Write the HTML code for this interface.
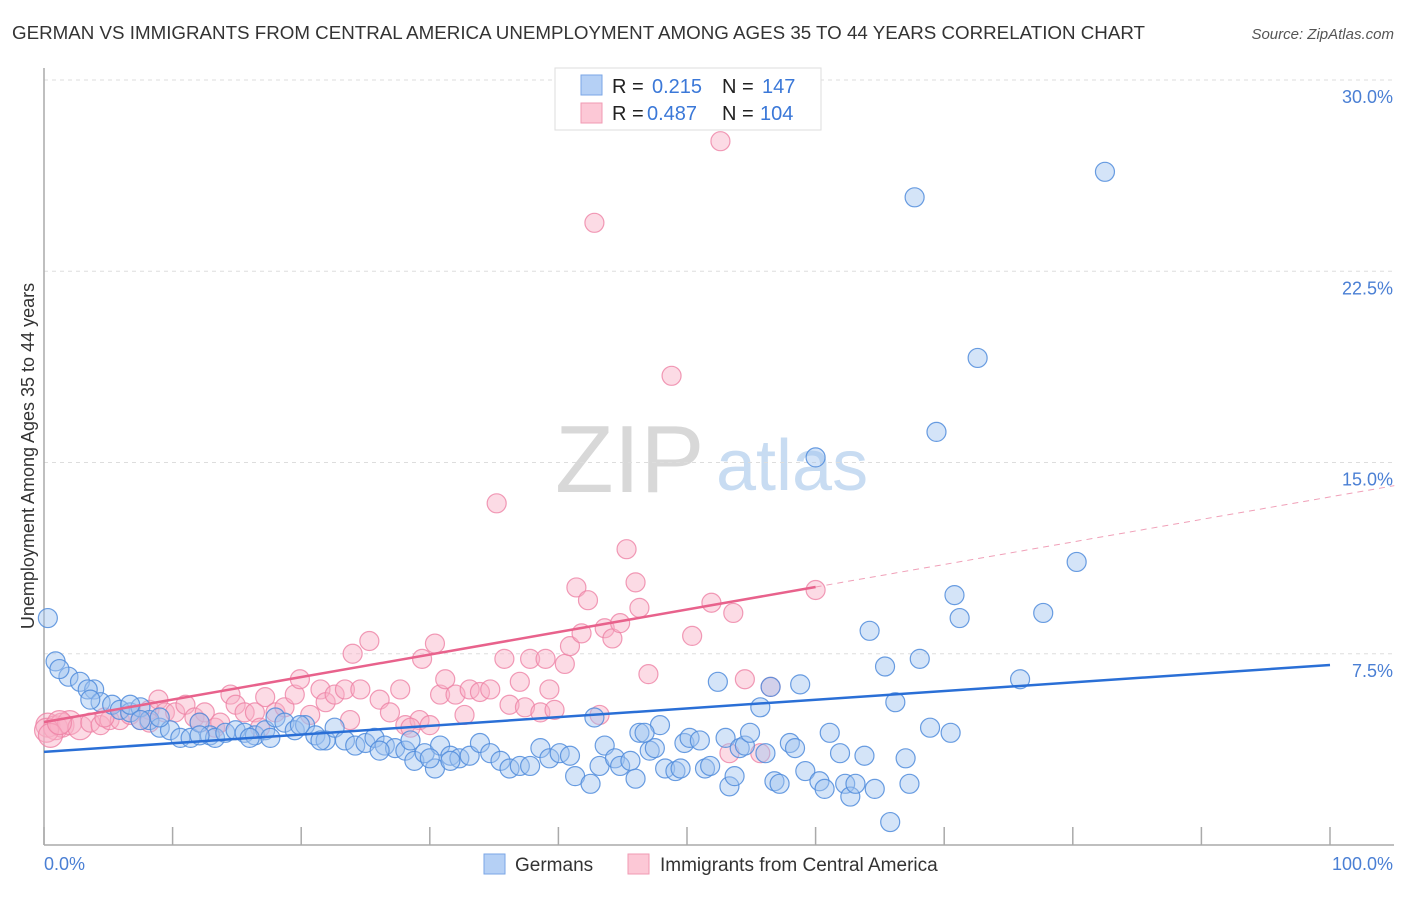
<!DOCTYPE html>
<html><head><meta charset="utf-8"><style>
body{margin:0;background:#fff;font-family:"Liberation Sans",sans-serif}
svg text{font-family:"Liberation Sans",sans-serif}
</style></head><body>
<svg id="chart" width="1406" height="892" xmlns="http://www.w3.org/2000/svg">
<text x="12" y="39" font-size="18" fill="#333" textLength="1133" lengthAdjust="spacingAndGlyphs">GERMAN VS IMMIGRANTS FROM CENTRAL AMERICA UNEMPLOYMENT AMONG AGES 35 TO 44 YEARS CORRELATION CHART</text>
<text x="1394" y="39" font-size="15" fill="#555" text-anchor="end" font-style="italic">Source: ZipAtlas.com</text>
<g>
<text x="555" y="492" font-size="96" font-family="Liberation Serif" fill="#d8d8d8">ZIP</text>
<text x="716" y="490" font-size="72" fill="#c8dcf2">atlas</text>
</g>
<g id="grid"></g>
<g id="axes"></g>
<g id="pink"></g>
<g id="blue"></g>
<g id="lines"></g>
<text transform="translate(34,456) rotate(-90)" font-size="18" fill="#333" text-anchor="middle">Unemployment Among Ages 35 to 44 years</text>
<g>
<rect x="555" y="68" width="266" height="62" fill="#fff" stroke="#ddd"/>
<rect x="581" y="75" width="21" height="20" fill="#b5d0f5" stroke="#7aa6e6"/>
<rect x="581" y="103" width="21" height="20" fill="#fcc8d6" stroke="#f09ab3"/>
<text x="612" y="93" font-size="20" fill="#222">R =</text><text x="652" y="93" font-size="20" fill="#3b78d8">0.215</text>
<text x="722" y="93" font-size="20" fill="#222">N =</text><text x="762" y="93" font-size="20" fill="#3b78d8">147</text>
<text x="612" y="120" font-size="20" fill="#222">R =</text><text x="647" y="120" font-size="20" fill="#3b78d8">0.487</text>
<text x="722" y="120" font-size="20" fill="#222">N =</text><text x="760" y="120" font-size="20" fill="#3b78d8">104</text>
</g>
<g>
<rect x="484" y="854" width="21" height="20" fill="#b5d0f5" stroke="#7aa6e6"/>
<text x="515" y="871" font-size="19" fill="#333">Germans</text>
<rect x="628" y="854" width="21" height="20" fill="#fcc8d6" stroke="#f09ab3"/>
<text x="660" y="871" font-size="19" fill="#333">Immigrants from Central America</text>
</g>
</svg>
<script>
const yTicks=[7.5,15,22.5,30];
const yTickLabels=["7.5%","15.0%","22.5%","30.0%"];
const xTicks=[0,10,20,30,40,50,60,70,80,90,100];
const blueX=[0.3,0.9,1.9,2.8,3.9,3.4,4.4,5.3,5.9,6.7,7.5,8.2,9.0,9.8,10.6,11.4,12.1,12.9,13.3,14.1,14.9,15.6,16.4,17.2,18.0,18.7,19.5,20.3,21.1,21.9,22.6,23.4,24.2,25.0,25.7,26.5,27.3,28.1,28.5,28.8,29.6,30.4,30.8,31.6,32.3,33.1,33.9,34.7,35.5,36.2,37.0,37.8,38.6,39.3,40.1,40.9,41.3,42.5,42.8,43.2,43.6,44.4,44.8,45.6,46.0,46.3,47.1,47.5,47.9,48.3,49.1,49.5,49.8,50.2,51.0,51.4,51.8,52.4,53.0,53.3,53.7,54.1,54.5,54.9,55.7,56.1,56.5,56.8,57.2,58.0,58.4,58.8,59.2,60.0,60.3,60.7,61.1,61.9,62.3,62.7,63.1,63.8,64.2,64.6,65.4,66.2,67.0,67.3,67.7,68.1,68.9,69.4,70.5,70.8,71.2,72.6,75.9,77.7,80.3,82.5,65.8,46.7,6.7,9.0,3.6,1.2,7.5,12.1,16.0,17.6,19.9,21.5,26.1,30.0,31.6];
const blueY=[8.9,7.2,6.6,6.4,6.1,6.1,5.6,5.5,5.3,5.2,5.4,4.9,4.6,4.5,4.2,4.2,4.8,4.3,4.2,4.4,4.5,4.4,4.3,4.5,5.0,4.8,4.5,4.7,4.3,4.1,4.6,4.1,3.9,4.0,4.2,3.9,3.8,3.7,4.1,3.3,3.6,3.0,3.9,3.5,3.4,3.5,4.0,3.6,3.3,3.0,3.1,3.1,3.8,3.4,3.6,3.5,2.7,2.4,5.0,3.1,3.9,3.4,3.1,3.3,2.6,4.4,3.7,3.8,4.7,3.0,2.9,3.0,4.0,4.2,4.1,3.0,3.1,6.4,4.2,2.3,2.7,3.8,3.9,4.4,5.4,3.6,6.2,2.5,2.4,4.0,3.8,6.3,2.9,15.2,2.5,2.2,4.4,3.6,2.4,1.9,2.4,3.5,8.4,2.2,7.0,5.6,3.4,2.4,25.4,7.3,4.6,16.2,4.4,9.8,8.9,19.1,6.5,9.1,11.1,26.4,0.9,4.4,5.5,5.0,5.7,6.9,4.9,4.3,4.2,4.2,4.7,4.1,3.7,3.4,3.3];
const pinkX=[0.3,0.9,1.4,2.0,2.8,3.6,4.4,5.1,5.9,6.7,7.5,8.2,8.9,9.4,10.2,11.0,11.7,12.5,13.3,13.7,14.5,14.9,15.6,16.4,17.2,18.0,18.7,19.5,19.9,20.7,21.5,21.9,22.6,23.4,24.0,24.6,25.3,26.1,26.9,27.7,28.1,29.2,29.4,30.0,30.4,30.8,31.2,32.0,32.7,33.1,33.9,34.7,35.2,35.8,36.2,37.0,37.4,37.8,38.6,39.0,39.3,39.7,40.5,40.9,41.4,41.8,42.3,42.8,43.2,43.6,44.2,44.8,45.3,46.0,46.3,47.0,48.8,50.4,51.9,52.6,53.6,54.5,56.5,60.0,53.3,55.7,0.2,0.5,1.2,4.7,8.2,12.1,16.8,23.8,28.5];
const pinkY=[4.7,4.6,4.7,4.8,4.6,4.8,4.7,4.9,4.9,5.1,4.9,5.3,5.7,5.2,5.2,5.5,5.0,5.2,4.6,4.8,5.9,5.5,5.2,5.2,5.8,5.2,5.4,5.9,6.5,5.1,6.1,5.6,5.9,6.1,7.5,6.1,8.0,5.7,5.2,6.1,4.7,4.9,7.3,4.7,7.9,5.9,6.5,5.9,5.1,6.1,6.0,6.1,13.4,7.3,5.5,6.4,5.4,7.3,5.2,7.3,6.1,5.3,7.1,7.8,10.1,8.3,9.6,24.4,5.1,8.5,8.1,8.7,11.6,10.3,9.3,6.7,18.4,8.2,9.5,27.6,9.1,6.5,6.2,10.0,3.6,3.6,4.5,4.3,4.8,5.0,4.8,4.8,4.6,4.9,4.6];
const blueFit=[3.65,0.0341];
const pinkFit=[4.82,0.0883];
const NS='http://www.w3.org/2000/svg';
const X=v=>44+v*12.86, Y=v=>845-v*25.5;
function mk(tag,attrs,parent){const e=document.createElementNS(NS,tag);for(const k in attrs)e.setAttribute(k,attrs[k]);document.getElementById(parent).appendChild(e);return e;}
yTicks.forEach((t,i)=>{
 const g=mk('line',{x1:44,x2:1394,y1:Y(t),y2:Y(t),stroke:'#ddd','stroke-dasharray':'4,4'},'grid');
 
 
 const l=mk('text',{x:1393,y:Y(t)+23,'font-size':18,fill:'#4a7fd4','text-anchor':'end'},'grid');
 l.textContent=yTickLabels[i];
 
 
});
const ax=mk('line',{x1:44,x2:1394,y1:845,y2:845,stroke:'#aaa','stroke-width':1.5},'axes');


const ay=mk('line',{x1:44,x2:44,y1:68,y2:845,stroke:'#aaa','stroke-width':1.5},'axes');


xTicks.forEach(t=>{const e=mk('line',{x1:X(t),x2:X(t),y1:827,y2:845,stroke:'#aaa','stroke-width':1.5},'axes');
 
 });
const x0=mk('text',{x:44,y:870,'font-size':18,fill:'#4a7fd4'},'axes');x0.textContent='0.0%';


const x1=mk('text',{x:1393,y:870,'font-size':18,fill:'#4a7fd4','text-anchor':'end'},'axes');x1.textContent='100.0%';


pinkX.forEach((v,i)=>{const c=mk('circle',{cx:X(v),cy:Y(pinkY[i]),r:v<3?12:9.5,fill:'rgba(248,175,198,0.45)',stroke:'rgba(238,130,165,0.8)','stroke-width':1.2},'pink');
 
 });
blueX.forEach((v,i)=>{const c=mk('circle',{cx:X(v),cy:Y(blueY[i]),r:9.5,fill:'rgba(160,196,240,0.45)',stroke:'rgba(80,140,220,0.85)','stroke-width':1.2},'blue');
 
 });
const bl=mk('line',{x1:X(0),y1:Y(blueFit[0]),x2:X(100),y2:Y(blueFit[0]+blueFit[1]*100),stroke:'#2a6fd6','stroke-width':2.5},'lines');


const pl=mk('line',{x1:X(0),y1:Y(pinkFit[0]),x2:X(60),y2:Y(pinkFit[0]+pinkFit[1]*60),stroke:'#e8628c','stroke-width':2.5},'lines');


const pd=mk('line',{x1:X(60),y1:Y(pinkFit[0]+pinkFit[1]*60),x2:X(105),y2:Y(pinkFit[0]+pinkFit[1]*105),stroke:'#f0a0b8','stroke-width':1,'stroke-dasharray':'6,5'},'lines');


</script>
</body></html>
